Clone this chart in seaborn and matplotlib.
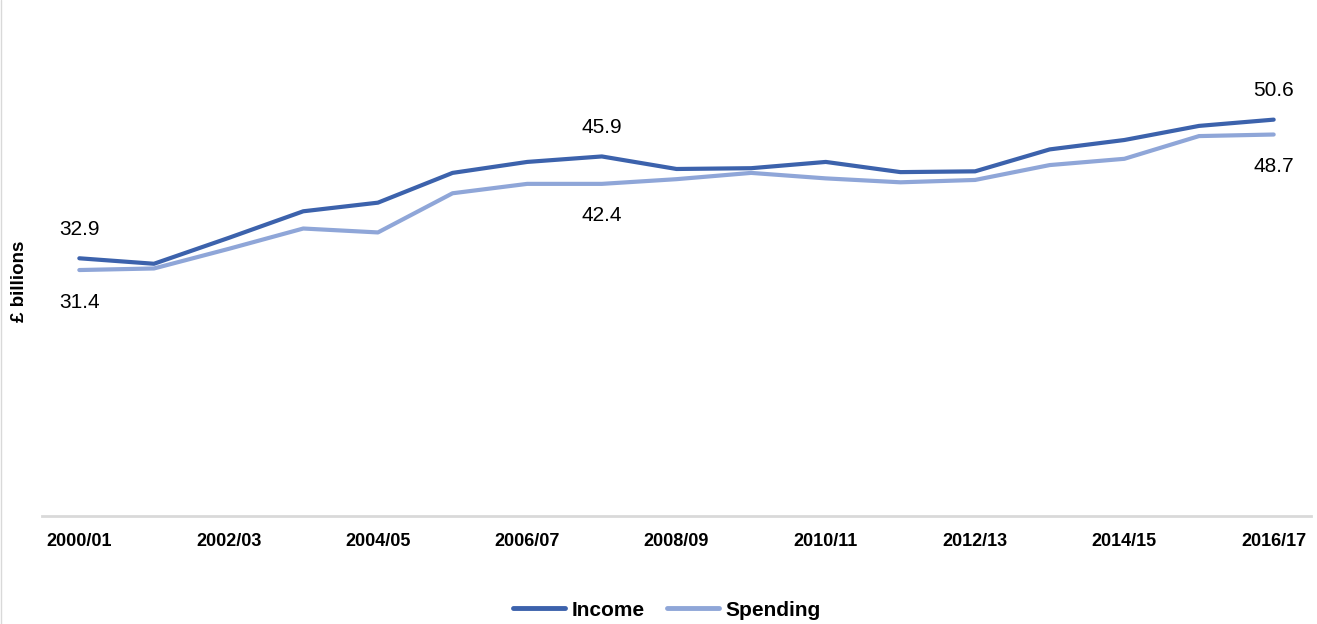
import matplotlib
matplotlib.use("Agg")
import matplotlib.pyplot as plt
import seaborn as sns
import pandas as pd
from matplotlib.lines import Line2D

years = ["2000/01", "2001/02", "2002/03", "2003/04", "2004/05", "2005/06", "2006/07",
         "2007/08", "2008/09", "2009/10", "2010/11", "2011/12", "2012/13", "2013/14",
         "2014/15", "2015/16", "2016/17"]
income = [32.9, 32.2, 35.5, 38.9, 40.0, 43.8, 45.2, 45.9, 44.3, 44.4, 45.2, 43.9, 44.0,
          46.8, 48.0, 49.8, 50.6]
spending = [31.4, 31.6, 34.1, 36.7, 36.2, 41.2, 42.4, 42.4, 43.0, 43.8, 43.1, 42.6, 42.9,
            44.8, 45.6, 48.5, 48.7]
series_names = ["Income", "Spending"]
colors = {"Income": "#3C62AC", "Spending": "#8FA6D8"}

sns.set_theme(style="white")
plt.rcParams["font.family"] = ["Liberation Sans", "DejaVu Sans"]
plt.rcParams["text.color"] = "black"
plt.rcParams["xtick.color"] = "black"

df = pd.DataFrame({
    "idx": list(range(len(years))) * 2,
    "value": income + spending,
    "series": [series_names[0]] * len(years) + [series_names[1]] * len(years),
})

fig = plt.figure(figsize=(13.17, 6.24), dpi=100)
ax = fig.add_axes([42 / 1317, 1 - 516 / 624, (1311 - 42) / 1317, (516 - 46) / 624])
sns.lineplot(data=df, x="idx", y="value", hue="series", palette=colors, linewidth=3,
             ax=ax, legend=False)

ax.set_xlim(-0.5, len(years) - 0.5)
ax.set_ylim(0, 60)
ax.set_xticks(range(0, len(years), 2))
ax.set_xticklabels(years[::2], fontsize=13, fontweight="bold", color="black")
ax.set_yticks([])
ax.tick_params(axis="x", length=0, pad=12.5)
ax.set_xlabel("")
ax.set_ylabel("")
for s in ["top", "right", "left"]:
    ax.spines[s].set_visible(False)
ax.spines["bottom"].set_color("#D9D9D9")
ax.spines["bottom"].set_linewidth(2)

fig.text(20 / 1317, 1 - 281 / 624, "£ billions", rotation=90, ha="center", va="center",
         fontsize=13.5, fontweight="bold", color="black")

# data labels
for i in [0, 7, 16]:
    ax.annotate(f"{income[i]:.1f}", (i, income[i]), xytext=(0, 29), textcoords="offset pixels",
                ha="center", va="center", fontsize=15, color="black")
    ax.annotate(f"{spending[i]:.1f}", (i, spending[i]), xytext=(0, -32), textcoords="offset pixels",
                ha="center", va="center", fontsize=15, color="black")

handles = [Line2D([0], [0], color=colors[n], lw=3.5) for n in series_names]
fig.legend(handles, series_names, loc="center", bbox_to_anchor=(667 / 1317, 1 - 610 / 624), ncol=2,
           frameon=False, prop={"weight": "bold", "size": 15}, handlelength=2.5,
           handletextpad=0.3, columnspacing=1.1, labelcolor="black")

fig.add_artist(Line2D([0.5 / 1317, 0.5 / 1317], [0, 1], color="#D9D9D9", lw=1,
                      transform=fig.transFigure))

fig.savefig("out.png", dpi=100)
